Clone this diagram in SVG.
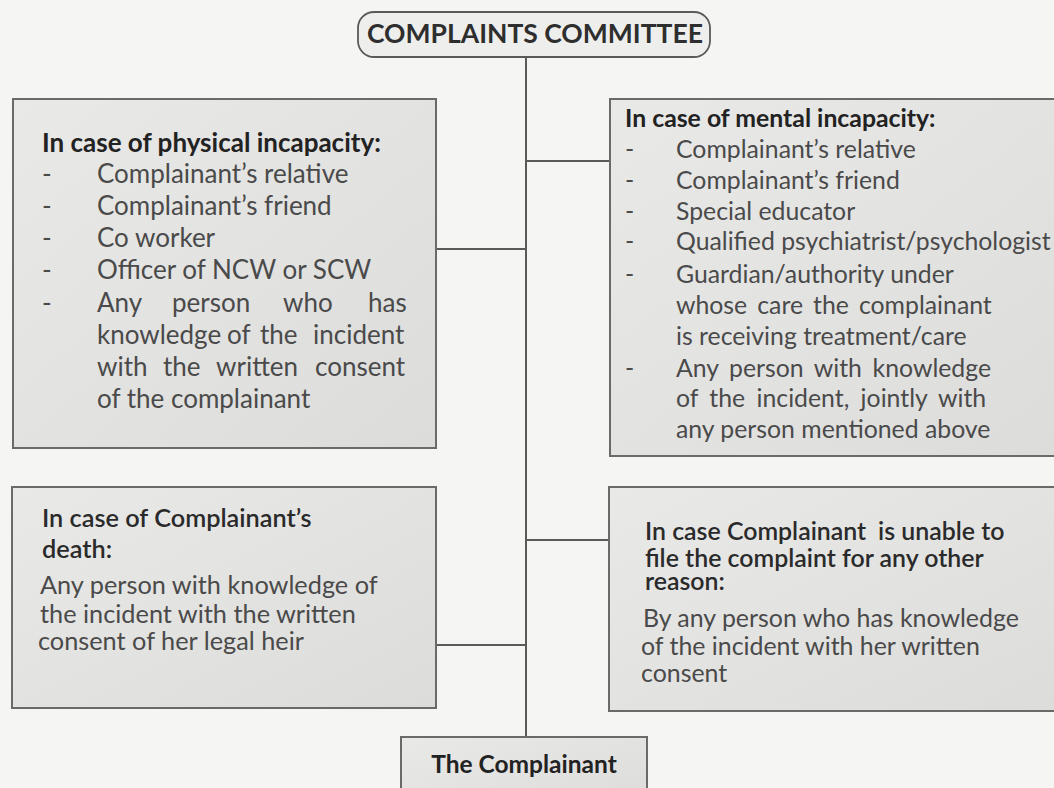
<svg xmlns="http://www.w3.org/2000/svg" width="1054" height="788" viewBox="0 0 1054 788">
<style>
.box{stroke:#6a6a6a;stroke-width:2}
.pill{fill:#eeeeed;stroke:#5a5a5a;stroke-width:1.8}
.ln{stroke:#5a5a5a;stroke-width:2;fill:none}
text{font-family:Lato,"Open Sans","Liberation Sans",sans-serif;}
.h{font-weight:bold;fill:#222}
.h2{font-weight:600;fill:#2a2a2a}
.t{fill:#4a4a4a}
.L{font-size:26px}
.R{font-size:24.8px}
.B{font-size:25.3px}
.BR{font-size:24.9px}
.title{font-size:26.5px;font-weight:bold;fill:#2e2e2e}
</style>
<defs>
<linearGradient id="g" x1="0" y1="0" x2="1" y2="1">
<stop offset="0" stop-color="#e9e9e8"/>
<stop offset="1" stop-color="#dcdcdb"/>
</linearGradient>
</defs>
<rect x="0" y="0" width="1054" height="788" fill="#f5f5f3"/>
<g id="connectors">
<line class="ln" x1="526" y1="57" x2="526" y2="737"/>
<line class="ln" x1="436" y1="249" x2="526" y2="249"/>
<line class="ln" x1="526" y1="161" x2="610" y2="161"/>
<line class="ln" x1="436" y1="645" x2="526" y2="645"/>
<line class="ln" x1="526" y1="540" x2="610" y2="540"/>
</g>
<g id="node-committee">
<rect class="pill" x="358" y="12" width="352" height="45" rx="16"/>
<text class="title" x="535" y="43" text-anchor="middle">COMPLAINTS COMMITTEE</text>
</g>
<g id="node-physical">
<rect class="box" x="13" y="99" width="423" height="349" fill="url(#g)"/>
<text class="h L" x="42" y="152">In case of physical incapacity:</text>
<text class="t L" x="42" y="183">-</text>
<text class="t L" x="97" y="183">Complainant’s relative</text>
<text class="t L" x="42" y="215">-</text>
<text class="t L" x="97" y="215">Complainant’s friend</text>
<text class="t L" x="42" y="247">-</text>
<text class="t L" x="97" y="247">Co worker</text>
<text class="t L" x="42" y="279">-</text>
<text class="t L" x="97" y="279">Officer of NCW or SCW</text>
<text class="t L" x="42" y="312">-</text>
<text class="t L" y="312"><tspan x="97">Any</tspan><tspan x="172">person</tspan><tspan x="283">who</tspan><tspan x="368">has</tspan></text>
<text class="t L" y="344"><tspan x="97">knowledge</tspan><tspan x="227">of</tspan><tspan x="260">the</tspan><tspan x="313">incident</tspan></text>
<text class="t L" y="376"><tspan x="97">with</tspan><tspan x="163">the</tspan><tspan x="216">written</tspan><tspan x="315">consent</tspan></text>
<text class="t L" x="97" y="408">of the complainant</text>
</g>
<g id="node-mental">
<rect class="box" x="610" y="99" width="460" height="357" fill="url(#g)"/>
<text class="h R" x="625" y="127">In case of mental incapacity:</text>
<text class="t R" x="625" y="158">-</text>
<text class="t R" x="676" y="158">Complainant’s relative</text>
<text class="t R" x="625" y="189">-</text>
<text class="t R" x="676" y="189">Complainant’s friend</text>
<text class="t R" x="625" y="220">-</text>
<text class="t R" x="676" y="220">Special educator</text>
<text class="t R" x="625" y="250">-</text>
<text class="t R" x="676" y="250">Qualified psychiatrist/psychologist</text>
<text class="t R" x="625" y="283">-</text>
<text class="t R" x="676" y="283">Guardian/authority under</text>
<text class="t R" x="676" y="314" word-spacing="3.7">whose care the complainant</text>
<text class="t R" x="676" y="345">is receiving treatment/care</text>
<text class="t R" x="625" y="377">-</text>
<text class="t R" x="676" y="377" word-spacing="4.3">Any person with knowledge</text>
<text class="t R" x="676" y="407" word-spacing="5">of the incident, jointly with</text>
<text class="t R" x="676" y="438">any person mentioned above</text>
</g>
<g id="node-death">
<rect class="box" x="12" y="487" width="424" height="221" fill="url(#g)"/>
<text class="h2 B" x="42" y="527">In case of Complainant’s</text>
<text class="h2 B" x="42" y="558">death:</text>
<text class="t B" x="40" y="594">Any person with knowledge of</text>
<text class="t B" x="40" y="623">the incident with the written</text>
<text class="t B" x="38" y="650">consent of her legal heir</text>
</g>
<g id="node-other">
<rect class="box" x="609" y="487" width="460" height="224" fill="url(#g)"/>
<text class="h2 BR" y="540"><tspan x="645">In case Complainant</tspan><tspan x="878">is unable to</tspan></text>
<text class="h2 BR" x="645" y="567">file the complaint for any other</text>
<text class="h2 BR" x="645" y="590">reason:</text>
<text class="t BR" x="643" y="627">By any person who has knowledge</text>
<text class="t BR" x="641" y="655">of the incident with her written</text>
<text class="t BR" x="641" y="682">consent</text>
</g>
<g id="node-complainant">
<rect class="box" x="401" y="737" width="246" height="70" fill="url(#g)"/>
<text class="h" x="524" y="773" text-anchor="middle" style="font-size:24.5px">The Complainant</text>
</g>
</svg>
